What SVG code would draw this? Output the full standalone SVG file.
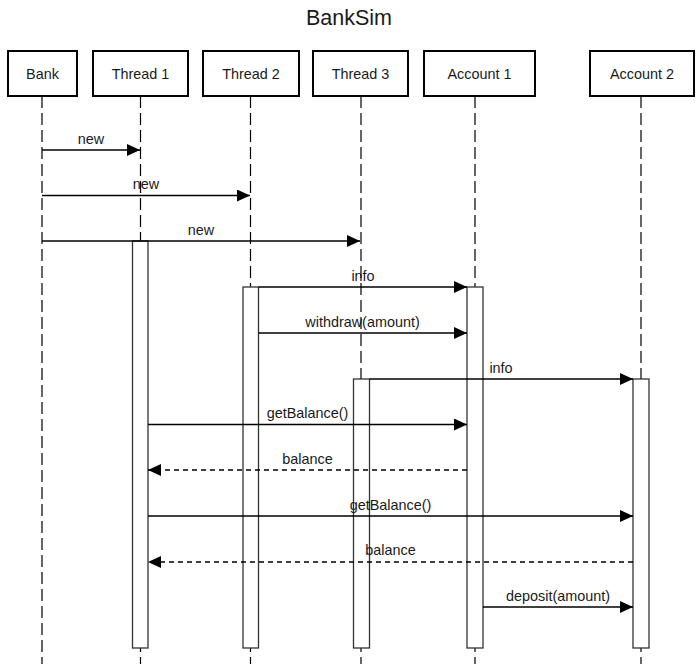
<svg xmlns="http://www.w3.org/2000/svg" width="699" height="664" viewBox="0 0 699 664">
<defs>
<style>
text{font-family:"Liberation Sans",Arial,sans-serif;fill:#1a1a1a;text-anchor:middle}
.title{font-size:21.5px}
.lbl{font-size:14.4px}
.box{fill:#fff;stroke:#000;stroke-width:2}
.life{stroke:#000;stroke-width:1.2;stroke-dasharray:12 5;fill:none}
.act{fill:#fff;stroke:#333;stroke-width:1.3}
.msg{stroke:#000;stroke-width:1.3;fill:none;marker-end:url(#ah)}
.ret{stroke:#000;stroke-width:1.3;fill:none;stroke-dasharray:5 4;marker-end:url(#ah)}
</style>
<marker id="ah" viewBox="0 0 13 12" refX="13" refY="6" markerWidth="13" markerHeight="12" markerUnits="userSpaceOnUse" orient="auto">
<path d="M0,0 L13,6 L0,12 Z" fill="#000"/>
</marker>
</defs>
<rect width="699" height="664" fill="#fff"/>
<text class="title" x="349" y="25">BankSim</text>

<g id="lifelines">
<line class="life" x1="42" y1="96" x2="42" y2="664"/>
<line class="life" x1="140.5" y1="96" x2="140.5" y2="664"/>
<line class="life" x1="250.5" y1="96" x2="250.5" y2="664"/>
<line class="life" x1="361" y1="96" x2="361" y2="664"/>
<line class="life" x1="475" y1="96" x2="475" y2="664"/>
<line class="life" x1="641" y1="96" x2="641" y2="664"/>
</g>

<g id="bank"><rect class="box" x="8" y="51" width="69" height="45"/><text class="lbl" x="42.5" y="79">Bank</text></g>
<g id="thread1"><rect class="box" x="93" y="51" width="95" height="45"/><text class="lbl" x="140.5" y="79">Thread 1</text></g>
<g id="thread2"><rect class="box" x="203" y="51" width="96" height="45"/><text class="lbl" x="251" y="79">Thread 2</text></g>
<g id="thread3"><rect class="box" x="313" y="51" width="95" height="45"/><text class="lbl" x="360.5" y="79">Thread 3</text></g>
<g id="account1"><rect class="box" x="424" y="51" width="111" height="45"/><text class="lbl" x="479.5" y="79">Account 1</text></g>
<g id="account2"><rect class="box" x="590" y="51" width="104" height="45"/><text class="lbl" x="642" y="79">Account 2</text></g>

<g id="activations">
<rect class="act" x="132.5" y="241" width="15.5" height="407"/>
<rect class="act" x="243" y="287" width="15.5" height="361"/>
<rect class="act" x="467" y="287" width="16" height="361"/>
<rect class="act" x="353.5" y="379" width="16" height="269"/>
<rect class="act" x="633" y="379" width="16" height="269"/>
</g>

<g id="connectors">
<line class="msg" x1="42" y1="150" x2="140" y2="150"/>
<text class="lbl" x="91" y="143.5">new</text>
<line class="msg" x1="42" y1="195.5" x2="250" y2="195.5"/>
<text class="lbl" x="146" y="189">new</text>
<line class="msg" x1="42" y1="241" x2="360" y2="241"/>
<text class="lbl" x="201" y="234.5">new</text>
<line class="msg" x1="258.5" y1="287" x2="467" y2="287"/>
<text class="lbl" x="363" y="280.5">info</text>
<line class="msg" x1="258.5" y1="333" x2="467" y2="333"/>
<text class="lbl" x="362.5" y="326.5">withdraw(amount)</text>
<line class="msg" x1="369.5" y1="379" x2="633" y2="379"/>
<text class="lbl" x="501" y="372.5">info</text>
<line class="msg" x1="148" y1="424.5" x2="467" y2="424.5"/>
<text class="lbl" x="307.5" y="418">getBalance()</text>
<line class="ret" x1="467" y1="470" x2="148" y2="470"/>
<text class="lbl" x="307.5" y="463.5">balance</text>
<line class="msg" x1="148" y1="516" x2="633" y2="516"/>
<text class="lbl" x="390.5" y="509.5">getBalance()</text>
<line class="ret" x1="633" y1="562" x2="148" y2="562"/>
<text class="lbl" x="390.5" y="555">balance</text>
<line class="msg" x1="483" y1="607" x2="633" y2="607"/>
<text class="lbl" x="558" y="600.5">deposit(amount)</text>
</g>
</svg>
